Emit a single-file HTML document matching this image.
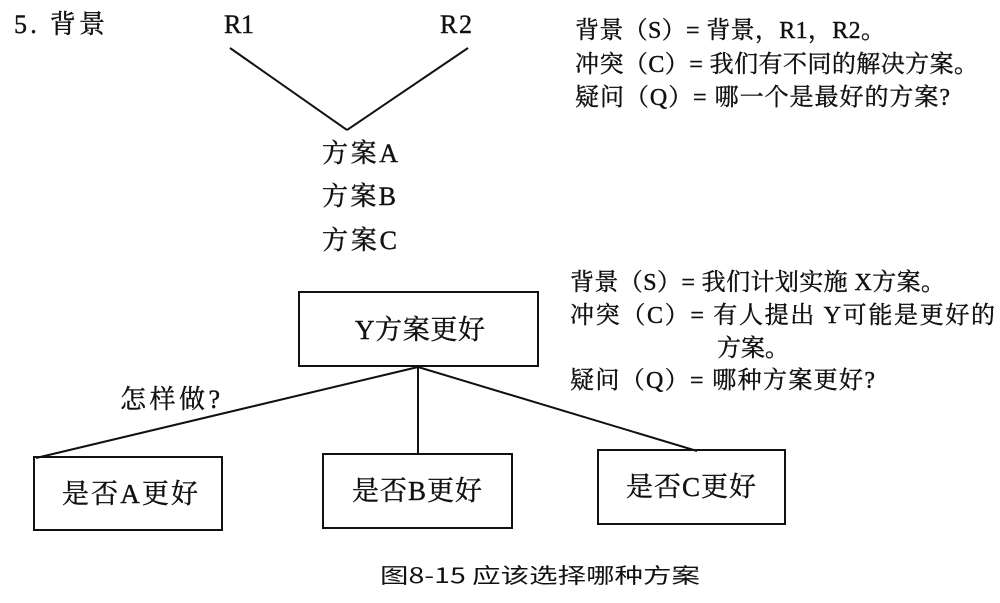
<!DOCTYPE html>
<html><head><meta charset="utf-8"><style>
html,body{margin:0;padding:0;background:#fff;}
svg{display:block;}
text{font-family:"Liberation Serif","Noto Serif CJK SC",serif;fill:#111;}
</style></head><body>
<svg width="1000" height="603" viewBox="0 0 1000 603">
<g font-size="24" lengthAdjust="spacingAndGlyphs" stroke="#111" stroke-width="0.4">
<text x="14" y="33" font-size="26" textLength="91">5. 背景</text>
<text x="224" y="33" font-size="26" textLength="30">R1</text>
<text x="440" y="33" font-size="26" textLength="32">R2</text>
<text x="322" y="162" font-size="26" textLength="76">方案A</text>
<text x="322" y="205" font-size="26" textLength="74">方案B</text>
<text x="322" y="249" font-size="26" textLength="75">方案C</text>
<text x="575" y="38" textLength="310">背景（S）= 背景，R1，R2。</text>
<text x="575" y="72" textLength="403">冲突（C）= 我们有不同的解决方案。</text>
<text x="575" y="105" textLength="375">疑问（Q）= 哪一个是最好的方案?</text>
<text x="570" y="290" textLength="375">背景（S）= 我们计划实施 X方案。</text>
<text x="570" y="323" textLength="425">冲突（C）= 有人提出 Y可能是更好的</text>
<text x="717" y="356">方案。</text>
<text x="570" y="388" textLength="305">疑问（Q）= 哪种方案更好?</text>
<text x="120" y="408" font-size="26" textLength="100">怎样做?</text>
</g>
<g stroke="#111" stroke-width="2" fill="none">
<line x1="230" y1="48" x2="347" y2="130"/>
<line x1="468" y1="48" x2="347" y2="130"/>
<rect x="299" y="292" width="239" height="74"/>
<line x1="418" y1="367" x2="36" y2="458"/>
<line x1="418" y1="367" x2="418" y2="455"/>
<line x1="418" y1="367" x2="697" y2="451"/>
<rect x="34" y="457" width="188" height="73"/>
<rect x="323" y="454" width="189" height="74"/>
<rect x="598" y="450" width="187" height="74"/>
</g>
<g font-size="27" lengthAdjust="spacingAndGlyphs" stroke="#111" stroke-width="0.4">
<text x="355" y="339" textLength="130">Y方案更好</text>
<text x="62" y="503" textLength="136">是否A更好</text>
<text x="352" y="500" textLength="130">是否B更好</text>
<text x="626" y="496" textLength="130">是否C更好</text>
</g>
<text x="380" y="583" font-size="21" textLength="320" lengthAdjust="spacingAndGlyphs" style="font-family:'Noto Sans CJK SC',sans-serif;font-weight:normal">图8-15 应该选择哪种方案</text>
</svg>
</body></html>
